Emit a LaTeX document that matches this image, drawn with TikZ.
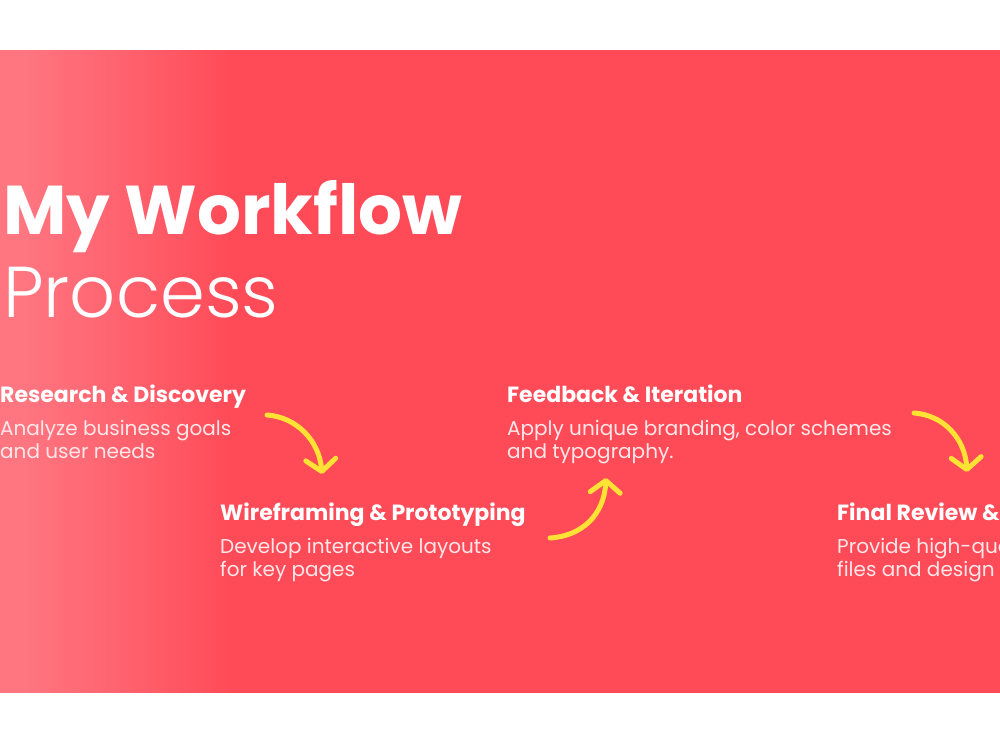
\documentclass[tikz,border=0pt]{standalone}
\usepackage{fontspec}
\setmainfont{Poppins}
\newfontfamily\lightfont{Poppins Light}
\usepackage{xcolor}
\usetikzlibrary{arrows.meta, positioning}
\definecolor{bandred}{HTML}{FF4B58}
\definecolor{bandpink}{HTML}{FF7681}
\definecolor{arrowyellow}{HTML}{FFE234}
\definecolor{softwhite}{HTML}{FFE6E8}
\pgfdeclarehorizontalshading{bandshade}{100bp}{color(0bp)=(bandpink); color(26bp)=(bandpink); color(31bp)=(bandpink!55!bandred); color(36.5bp)=(bandred); color(100bp)=(bandred)}

\begin{document}
\begin{tikzpicture}[x=1pt, y=1pt,
title/.style={anchor=base west, inner sep=0pt, text=white, font=\fontsize{69}{69}\selectfont\bfseries},
subtitle/.style={anchor=base west, inner sep=0pt, text=white, font=\fontsize{72}{72}\selectfont\lightfont},
heading/.style={anchor=base west, inner sep=0pt, text=white, font=\fontsize{22}{23}\selectfont\bfseries},
body/.style={anchor=base west, inner sep=0pt, text=softwhite, align=left, font=\fontsize{20}{23}\selectfont},
flow/.style={draw=arrowyellow, line width=5pt, line cap=round, -{Straight Barb[length=12pt, width=30pt, round]}}
]
	\useasboundingbox (0,0) rectangle (1000,750);
	\fill[white] (0,0) rectangle (1000,750);
	\shade[shading=bandshade] (0,58) rectangle (1000,699);
	\clip (0,0) rectangle (1000,750);
	\node[title] (t1) at (3,515) {My Workflow};
	\node[subtitle] (t2) at (3,432) {Process};
	\node[heading] (h1) at (0,347) {Research \& Discovery};
	\node[body, shift={(0pt,-56pt)}] (b1) at (h1.base west) {Analyze business goals\\and user needs};
	\node[heading] (h2) at (220,230) {Wireframing \& Prototyping};
	\node[body, shift={(0pt,-56pt)}] (b2) at (h2.base west) {Develop interactive layouts\\for key pages};
	\node[heading] (h3) at (507,347) {Feedback \& Iteration};
	\node[body, shift={(0pt,-56pt)}] (b3) at (h3.base west) {Apply unique branding, color schemes\\and typography.};
	\node[heading] (h4) at (837,230) {Final Review \& Delivery};
	\node[body, shift={(0pt,-56pt)}] (b4) at (h4.base west) {Provide high-quality\\files and design assets};
	\coordinate (a1s) at (267,335);
	\coordinate (a1e) at (322,276);
	\coordinate (a2s) at (550,212);
	\coordinate (a2e) at (606,272);
	\coordinate (a3s) at (914,337);
	\coordinate (a3e) at (967,278);
	\draw[flow] (a1s) .. controls +(29,-2) and +(-3,34) .. (a1e);
	\draw[flow] (a2s) .. controls +(32,2) and +(-2,-37) .. (a2e);
	\draw[flow] (a3s) .. controls +(29,-2) and +(-2,34) .. (a3e);
\end{tikzpicture}
\end{document}
